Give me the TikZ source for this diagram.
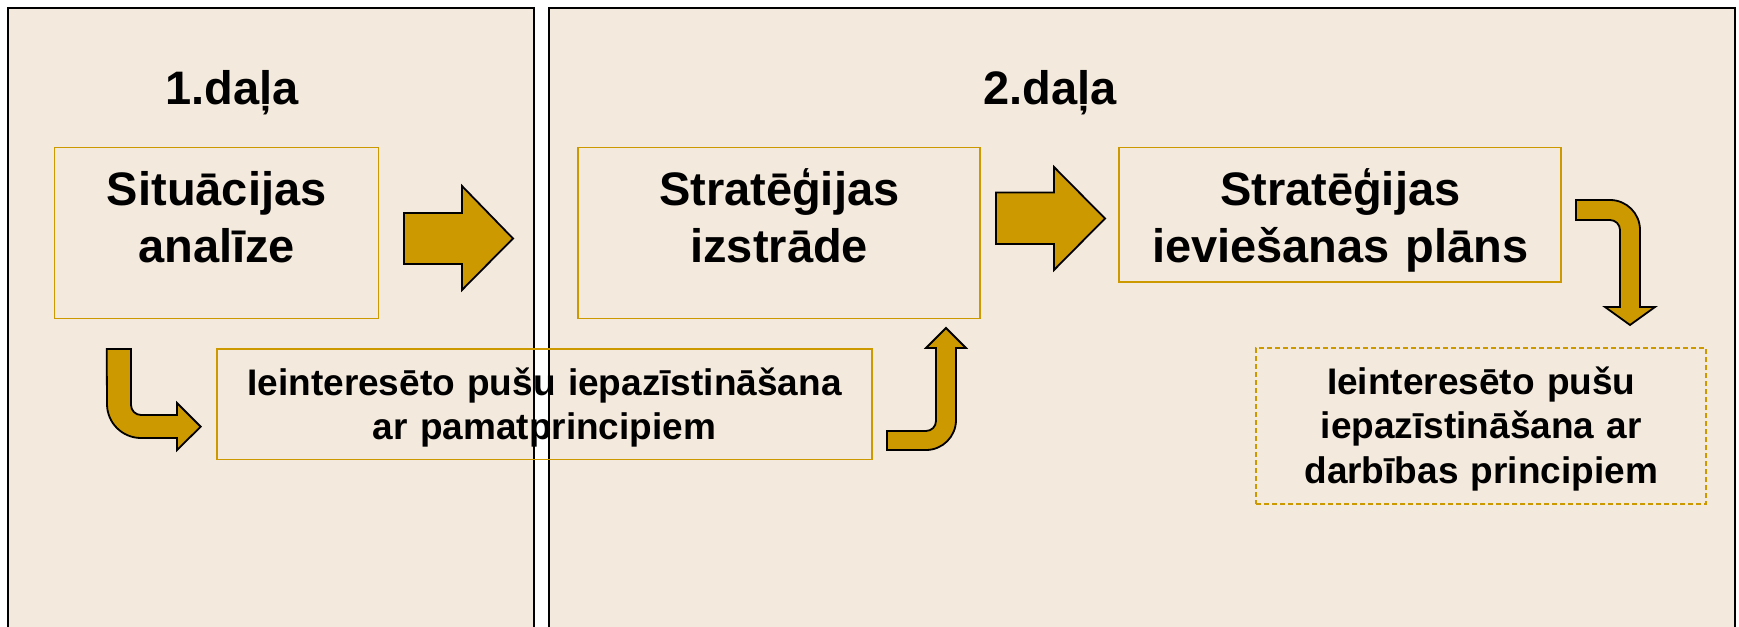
\documentclass[tikz,border=0pt]{standalone}
\usepackage{fontspec}
\setmainfont{Liberation Sans}
\usetikzlibrary{positioning}
\definecolor{panelbg}{HTML}{F3E9DC}
\definecolor{gold}{HTML}{CC9900}
\newcommand{\bigtxt}{\fontsize{47bp}{57bp}\selectfont\bfseries}
\newcommand{\smalltxt}{\fontsize{37bp}{44.5bp}\selectfont\bfseries}
\tikzset{
	panel/.style={draw=black, line width=2.2bp, fill=panelbg},
	% titles of the two parts
	parttitle/.style={anchor=base, inner sep=0pt, font=\bigtxt},
	stepbox/.style={draw=gold, line width=1.5bp, inner sep=0pt, outer sep=0pt, align=center, font=\bigtxt, text height=57.5bp},
	notebox/.style={draw=gold, line width=1.5bp, inner sep=0pt, outer sep=0pt, align=center, font=\smalltxt, text height=46bp},
	blockarrow/.style={draw=black, fill=gold, line width=1.8bp, line join=miter},
}

\begin{document}
\begin{tikzpicture}[x=1bp, y=1bp]
	\clip (0,0) rectangle (1739,-627);
	\fill[white] (0,0) rectangle (1739,-627);
	\draw[panel] (8,-8) rectangle (534,-660);
	\draw[panel] (549,-8) rectangle (1735,-660);
	
	\node (part1) [parttitle] at (232,-105) {1.daļa};
	\node (part2) [parttitle] at (1050,-105) {2.daļa};
	
	\node (sit) [stepbox, anchor=north west, text width=324bp, text depth=113.5bp] at (54.7,-147.5) {Situācijas\\analīze};
	\node (izs) [stepbox, right=199.5bp of sit, text width=402bp, text depth=113.5bp] {Stratēģijas\\izstrāde};
	\node (plan) [stepbox, below right=0bp and 139bp of izs.north east, text width=442bp, text depth=77bp] {Stratēģijas\\ieviešanas plāns};
	
	\node (iep) [notebox, below right=30.5bp and 162.3bp of sit.south west, text width=655bp, text depth=64.5bp] {Ieinteresēto pušu iepazīstināšana\\ar pamatprincipiem};
	\node (dar) [notebox, dash pattern=on 5bp off 3bp, below right=66bp and 137bp of plan.south west, text width=450bp, text depth=110bp] {Ieinteresēto pušu\\iepazīstināšana ar\\darbības principiem};
	
	\begin{scope}[blockarrow]
		% straight arrows
		\filldraw (404,-213) -- (462,-213) -- (462,-186) -- (513,-238.5) -- (462,-290) -- (462,-264) -- (404,-264) -- cycle;
		\filldraw (996,-192.5) -- (1054,-192.5) -- (1054,-167) -- (1105,-218.5) -- (1054,-270) -- (1054,-244) -- (996,-244) -- cycle;
		% bent arrows
		\filldraw (106.7,-349) -- (131,-349) -- (131,-405) arc[start angle=180, end angle=270, radius=10] -- (177,-415) -- (177,-403) -- (200.7,-426.7) -- (177,-450) -- (177,-438) -- (141,-438) arc[start angle=270, end angle=180, radius=34] -- cycle;
		\filldraw (887,-431) -- (926,-431) arc[start angle=-90, end angle=0, radius=10] -- (936,-348) -- (926,-348) -- (946,-328) -- (966,-348) -- (956,-348) -- (956,-420) arc[start angle=0, end angle=-90, radius=30] -- (887,-450) -- cycle;
		\filldraw (1576,-200) -- (1610,-200) arc[start angle=90, end angle=0, radius=30] -- (1640,-307) -- (1655,-307) -- (1630,-325) -- (1605,-307) -- (1620,-307) -- (1620,-230) arc[start angle=0, end angle=90, radius=10] -- (1576,-220) -- cycle;
	\end{scope}
\end{tikzpicture}
\end{document}
